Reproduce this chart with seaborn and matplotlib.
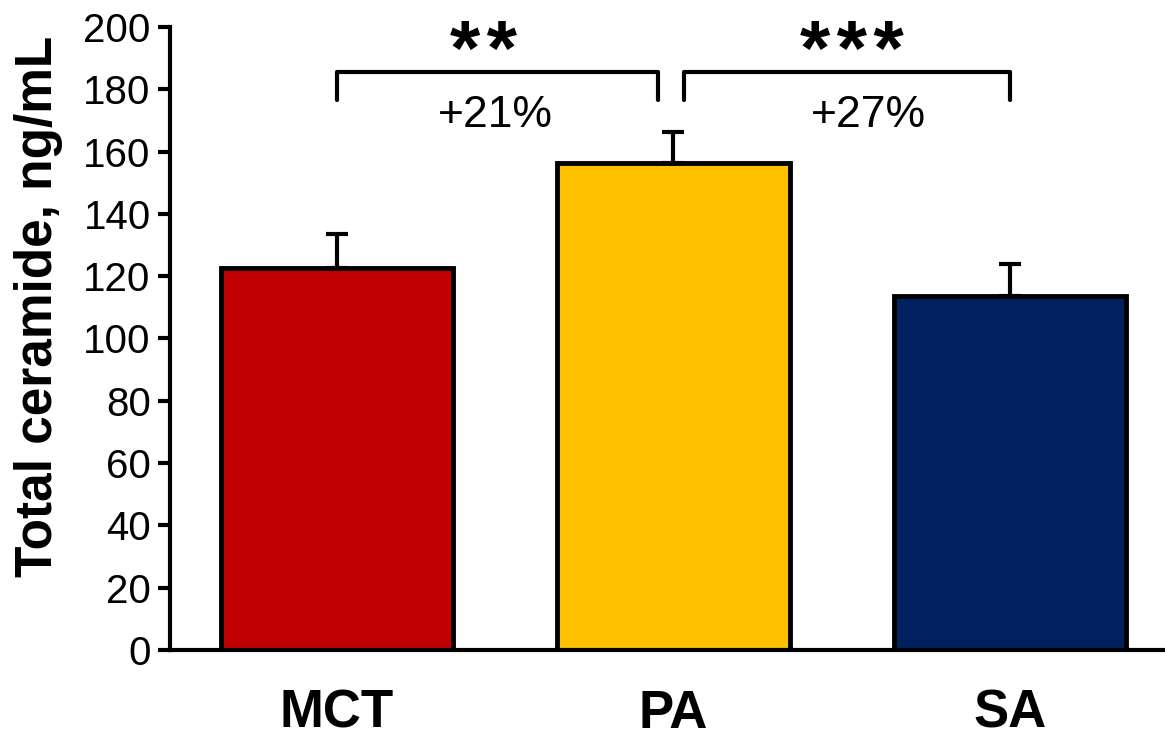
import matplotlib
matplotlib.use('Agg')
import matplotlib.pyplot as plt
import seaborn as sns

groups = ['MCT', 'PA', 'SA']
means = [122.5, 156.2, 113.5]
sems = [11.0, 10.2, 10.4]
colors = ['#C00000', '#FFC000', '#002060']

# significance brackets: (x_start, x_end, stars, star_x, change label, label_x)
brackets = [(0.0, 0.955, '**', 0.435, '+21%', 0.47),
            (1.03, 2.0, '***', 1.53, '+27%', 1.58)]

def plot_ceramide():
    sns.set_style('white')
    plt.rcParams['font.family'] = ['Liberation Sans', 'DejaVu Sans']
    plt.rcParams['text.color'] = 'black'
    plt.rcParams['axes.labelcolor'] = 'black'
    plt.rcParams['xtick.color'] = 'black'
    plt.rcParams['ytick.color'] = 'black'

    fig = plt.figure(figsize=(11.65, 7.41), dpi=100)
    ax = fig.add_axes([0.146, 0.1228, 0.854, 0.8408])

    sns.barplot(x=groups, y=means, hue=groups, palette=colors, legend=False, saturation=1,
                edgecolor='black', linewidth=3.5, width=0.69, errorbar=None, ax=ax)

    # upward-only error bars
    ax.errorbar(range(len(groups)), means, yerr=[[0] * len(sems), sems], fmt='none',
                ecolor='black', elinewidth=3, capsize=8, capthick=3, zorder=1)

    for x0, x1, stars, sx, label, lx in brackets:
        ax.plot([x0, x0, x1, x1], [176.5, 185.5, 185.5, 176.5], color='black',
                lw=3, solid_joinstyle='round', clip_on=False)
        # hair space between the stars so they don't touch
        ax.text(sx, 184.7, '\u200a'.join(stars), ha='center', va='baseline',
                fontsize=56, fontweight='bold', clip_on=False)
        ax.text(lx, 171.5, label, ha='center', va='center', fontsize=32)

    ax.set_ylim(0, 200)
    ax.set_xlim(-0.495, 2.46)
    ax.set_yticks(range(0, 201, 20))
    ax.tick_params(axis='y', labelsize=29, length=9, width=3, direction='out', left=True, pad=5)
    ax.tick_params(axis='x', labelsize=38, length=0, pad=28)
    for lab in ax.get_xticklabels():
        lab.set_fontweight('bold')
    ax.set_ylabel('Total ceramide, ng/mL', fontsize=37, fontweight='bold')
    ax.yaxis.set_label_coords(-0.108, 0.552)
    ax.set_xlabel('')

    sns.despine(ax=ax, top=True, right=True)
    for side in ['left', 'bottom']:
        ax.spines[side].set_linewidth(3)
        ax.spines[side].set_color('black')

    fig.savefig('out.png', dpi=100)

if __name__ == '__main__':
    plot_ceramide()
